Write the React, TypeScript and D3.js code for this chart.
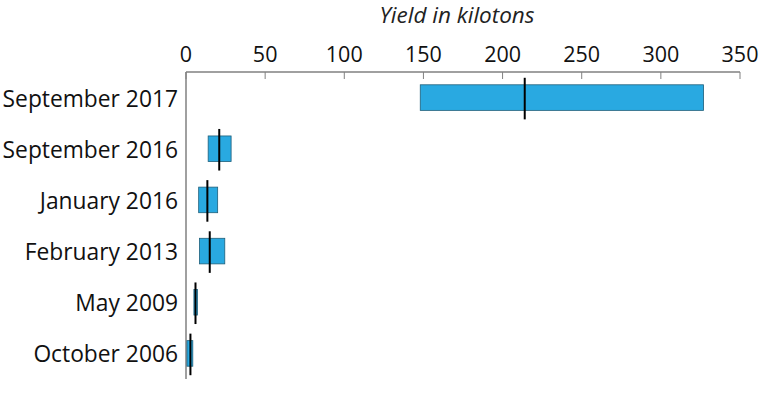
import * as d3 from "d3";
import { useEffect, useRef } from "react";

const categories = [
  "September 2017",
  "September 2016",
  "January 2016",
  "February 2013",
  "May 2009",
  "October 2006",
];
const lowValues = [148, 14, 8, 8.5, 5, 0.6];
const highValues = [327, 28.5, 20, 24.5, 7.2, 4.3];
const midValues = [214, 21, 13.5, 15, 6, 2.8];
const xTicks = [0, 50, 100, 150, 200, 250, 300, 350];

export default function App() {
  const svgRef = useRef<SVGSVGElement>(null);

  useEffect(() => {
    const width = 759;
    const height = 398;
    const margin = { top: 72, left: 186, right: 19, bottom: 20 };
    const font = "'Open Sans', sans-serif";

    const svg = d3.select(svgRef.current);
    svg.selectAll("*").remove();
    svg.attr("width", width).attr("height", height);

    const x = d3.scaleLinear().domain([0, 350]).range([margin.left, width - margin.right]);
    const y = d3
      .scaleBand<string>()
      .domain(categories)
      .range([margin.top, 379])
      .paddingInner(0.5)
      .paddingOuter(0.25);

    // title
    svg
      .append("text")
      .attr("x", 457)
      .attr("y", 23)
      .attr("text-anchor", "middle")
      .attr("font-family", font)
      .attr("font-style", "italic")
      .attr("font-size", 22.5)
      .attr("fill", "#222")
      .text("Yield in kilotons");

    // top axis: line + ticks pointing down, labels above
    const axis = svg.append("g");
    axis
      .append("line")
      .attr("x1", x(0))
      .attr("x2", x(350))
      .attr("y1", margin.top)
      .attr("y2", margin.top)
      .attr("stroke", "#808080")
      .attr("stroke-width", 1.5);
    axis
      .selectAll("line.tick")
      .data(xTicks)
      .join("line")
      .attr("class", "tick")
      .attr("x1", (d) => x(d))
      .attr("x2", (d) => x(d))
      .attr("y1", margin.top)
      .attr("y2", margin.top + 7)
      .attr("stroke", "#808080")
      .attr("stroke-width", 1);
    axis
      .selectAll("text")
      .data(xTicks)
      .join("text")
      .attr("x", (d) => x(d))
      .attr("y", 62)
      .attr("text-anchor", "middle")
      .attr("font-family", font)
      .attr("font-size", 21.5)
      .attr("fill", "#111")
      .text((d) => d);

    // left vertical axis line
    svg
      .append("line")
      .attr("x1", x(0))
      .attr("x2", x(0))
      .attr("y1", margin.top)
      .attr("y2", 379)
      .attr("stroke", "#808080")
      .attr("stroke-width", 1.5);

    // category labels
    svg
      .append("g")
      .selectAll("text")
      .data(categories)
      .join("text")
      .attr("x", 178)
      .attr("y", (d) => (y(d) as number) + y.bandwidth() / 2 + 1)
      .attr("dy", "0.35em")
      .attr("text-anchor", "end")
      .attr("font-family", font)
      .attr("font-size", 22.8)
      .attr("fill", "#111")
      .text((d) => d);

    // range bars
    svg
      .append("g")
      .selectAll("rect")
      .data(categories)
      .join("rect")
      .attr("x", (d, i) => x(lowValues[i]))
      .attr("width", (d, i) => x(highValues[i]) - x(lowValues[i]))
      .attr("y", (d) => y(d) as number)
      .attr("height", y.bandwidth())
      .attr("fill", "#29a9e1")
      .attr("stroke", "#1f5f7a")
      .attr("stroke-width", 0.8);

    // median markers
    svg
      .append("g")
      .selectAll("line")
      .data(categories)
      .join("line")
      .attr("x1", (d, i) => x(midValues[i]))
      .attr("x2", (d, i) => x(midValues[i]))
      .attr("y1", (d) => (y(d) as number) - 7)
      .attr("y2", (d) => (y(d) as number) + y.bandwidth() + 9)
      .attr("stroke", "#000")
      .attr("stroke-width", 2);
  }, []);

  return <svg ref={svgRef} style={{ position: "absolute", left: 0, top: 0 }}></svg>;
}
